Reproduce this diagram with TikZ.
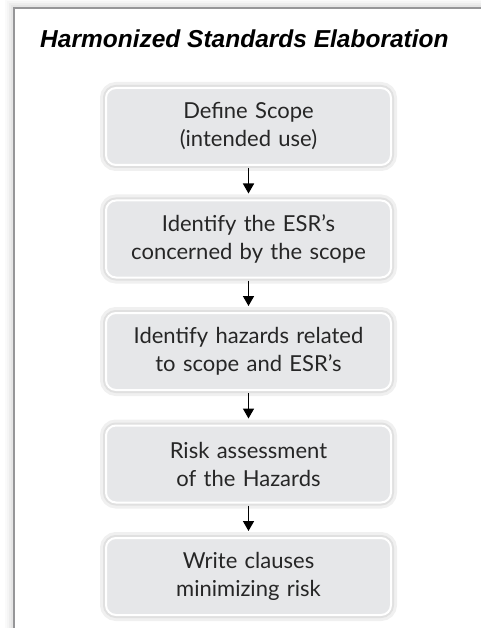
\documentclass[tikz,border=0pt]{standalone}
\usepackage{fontspec}
\setmainfont{Lato}
\newfontfamily\titlefont{Liberation Sans}
\usetikzlibrary{positioning, arrows.meta}
\definecolor{boxgray}{RGB}{230,231,233}
\definecolor{framegray}{RGB}{150,150,152}
\tikzset{
  stepbox/.style={
    rounded corners=10pt,
    fill=boxgray,
    draw=white, line width=2pt,
    minimum width=285pt, minimum height=77pt,
    text width=270pt, align=center,
    text=black!85, font=\fontsize{22}{28}\selectfont,
    inner sep=0pt,
    preaction={draw=black!6, line width=12pt},  % soft glow
    preaction={draw=black!12, line width=6pt}
  },
  flow arrow/.style={
    -{Triangle[width=11pt,length=10pt]},
    line width=1.6pt,
    shorten >=6pt, shorten <=2pt
  }
}

\begin{document}
\begin{tikzpicture}
    \useasboundingbox (0,0) rectangle (481pt,-628pt);

    % Frame with fading shadow
    \foreach \d/\o in {8/0.02, 6/0.04, 4/0.07, 2/0.10} {
      \draw[line width=2pt, black, opacity=\o] (481pt,{-8pt+\d pt}) -| ({14pt-\d pt},-628pt);
    }
    \draw[line width=2pt, framegray] (481pt,-8pt) -| (14pt,-628pt);

    % Title
    \node[anchor=base west, inner sep=0pt, font=\titlefont\fontsize{24.5}{28}\selectfont\bfseries\itshape] (title)
      at (40pt,-48pt) {Harmonized Standards Elaboration};

    % Steps
    \node[stepbox] (scope) at (248.5pt,-126.5pt) {Define Scope\\(intended use)};
    \node[stepbox, below=33.5pt of scope] (esr) {Identify the ESR’s\\concerned by the scope};
    \node[stepbox, below=33.5pt of esr] (hazards) {Identify hazards related\\to scope and ESR’s};
    \node[stepbox, below=33.5pt of hazards] (risk) {Risk assessment\\of the Hazards};
    \node[stepbox, below=33.5pt of risk] (clauses) {Write clauses\\minimizing risk};

    % Arrows
    \foreach \a/\b in {scope/esr, esr/hazards, hazards/risk, risk/clauses} {
      \draw[flow arrow] (\a) -- (\b);
    }
\end{tikzpicture}
\end{document}
